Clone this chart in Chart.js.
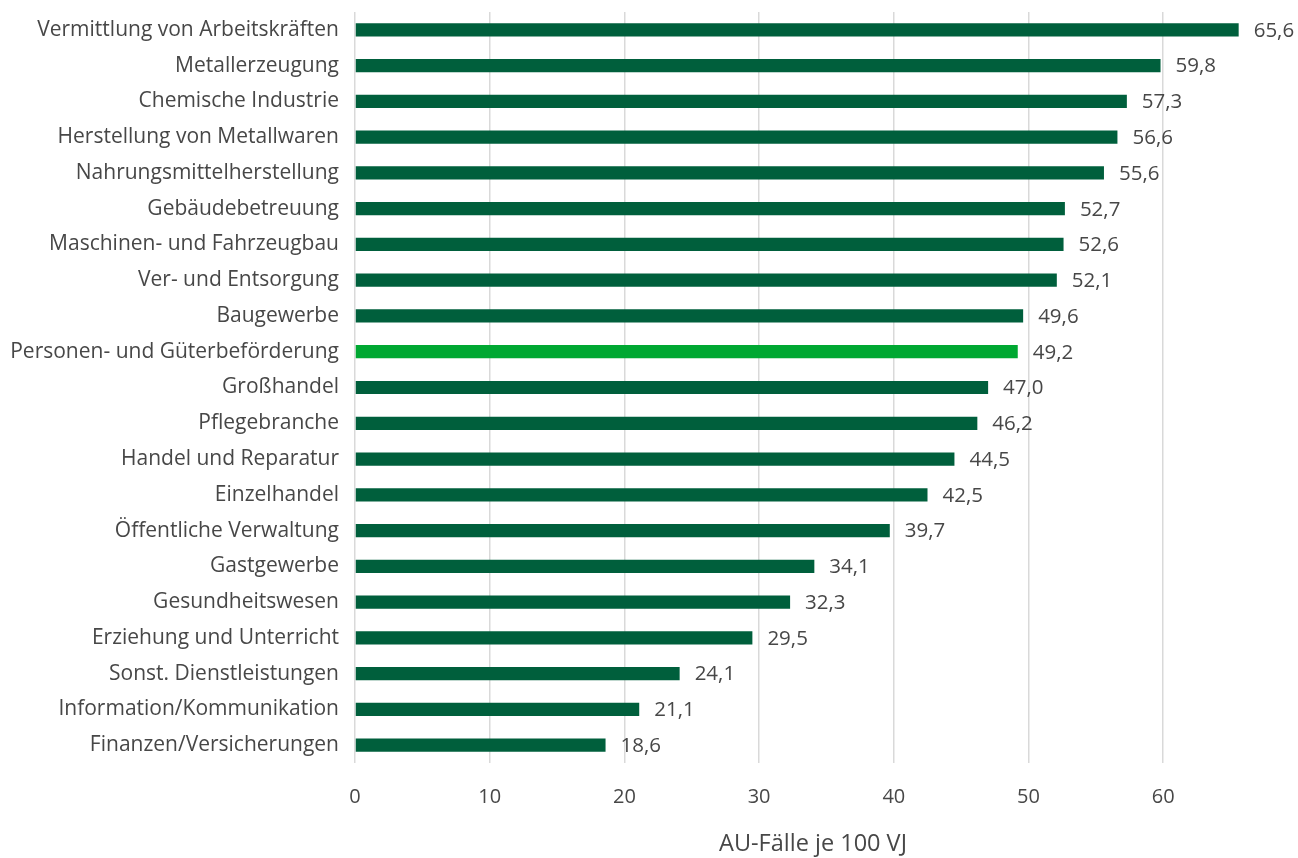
<!DOCTYPE html>
<html>
<head>
<meta charset="utf-8">
<script src="https://cdn.jsdelivr.net/npm/chart.js@4.4.1/dist/chart.umd.min.js"></script>
<style>
html,body{margin:0;padding:0;background:#fff;}
#wrap{width:1298px;height:858px;position:relative;}
</style>
</head>
<body>
<div id="wrap"><canvas id="c" width="1298" height="858"></canvas></div>
<script>
const categories = [
  "Vermittlung von Arbeitskräften",
  "Metallerzeugung",
  "Chemische Industrie",
  "Herstellung von Metallwaren",
  "Nahrungsmittelherstellung",
  "Gebäudebetreuung",
  "Maschinen- und Fahrzeugbau",
  "Ver- und Entsorgung",
  "Baugewerbe",
  "Personen- und Güterbeförderung",
  "Großhandel",
  "Pflegebranche",
  "Handel und Reparatur",
  "Einzelhandel",
  "Öffentliche Verwaltung",
  "Gastgewerbe",
  "Gesundheitswesen",
  "Erziehung und Unterricht",
  "Sonst. Dienstleistungen",
  "Information/Kommunikation",
  "Finanzen/Versicherungen"
];
const values = [65.6, 59.8, 57.3, 56.6, 55.6, 52.7, 52.6, 52.1, 49.6, 49.2, 47.0, 46.2, 44.5, 42.5, 39.7, 34.1, 32.3, 29.5, 24.1, 21.1, 18.6];
const highlightCategory = "Personen- und Güterbeförderung";
const xTicks = [0, 10, 20, 30, 40, 50, 60];
const axisTitle = "AU-Fälle je 100 VJ";

const DARK = "#005f3c";
const LIGHT = "#00a832";
const TEXT = "#474747";
const FONT = "'Open Sans', 'Noto Sans', sans-serif";

const colors = categories.map(c => c === highlightCategory ? LIGHT : DARK);

const valueLabels = {
  id: 'valueLabels',
  afterDatasetsDraw(chart) {
    const ctx = chart.ctx;
    const meta = chart.getDatasetMeta(0);
    ctx.save();
    ctx.font = "20.5px " + FONT;
    ctx.fillStyle = TEXT;
    ctx.textAlign = 'left';
    ctx.textBaseline = 'middle';
    meta.data.forEach((bar, i) => {
      const txt = values[i].toFixed(1).replace('.', ',');
      ctx.fillText(txt, bar.x + 15, bar.y + 1);
    });
    ctx.restore();
  }
};

new Chart(document.getElementById('c'), {
  type: 'bar',
  data: {
    labels: categories,
    datasets: [{
      data: values,
      backgroundColor: colors,
      borderWidth: 0,
      barPercentage: 0.37,
      categoryPercentage: 1.0
    }]
  },
  options: {
    indexAxis: 'y',
    responsive: false,
    animation: false,
    devicePixelRatio: 1,
    layout: { padding: { top: 12, right: 27, left: 0, bottom: 0 } },
    plugins: { legend: { display: false }, tooltip: { enabled: false } },
    scales: {
      x: {
        min: 0,
        max: 68,
        afterBuildTicks(scale) {
          scale.ticks = xTicks.map(v => ({ value: v }));
        },
        afterFit(scale) { scale.height = 95; scale.paddingLeft = 0; scale.paddingRight = 0; },
        grid: { color: '#d9d9d9', lineWidth: 1.5, drawTicks: false },
        border: { display: false },
        ticks: {
          padding: 22,
          color: TEXT,
          font: { family: FONT, size: 20 }
        },
        title: {
          display: true,
          text: axisTitle,
          color: TEXT,
          font: { family: FONT, size: 23.5 },
          padding: { top: 0, bottom: 0 }
        }
      },
      y: {
        afterFit(scale) { scale.width = 355; scale.paddingTop = 0; scale.paddingBottom = 0; },
        grid: { display: false, drawTicks: false },
        border: { display: false },
        ticks: {
          padding: 16,
          color: TEXT,
          autoSkip: false,
          font: { family: FONT, size: 21 }
        }
      }
    }
  },
  plugins: [valueLabels]
});
</script>
</body>
</html>
